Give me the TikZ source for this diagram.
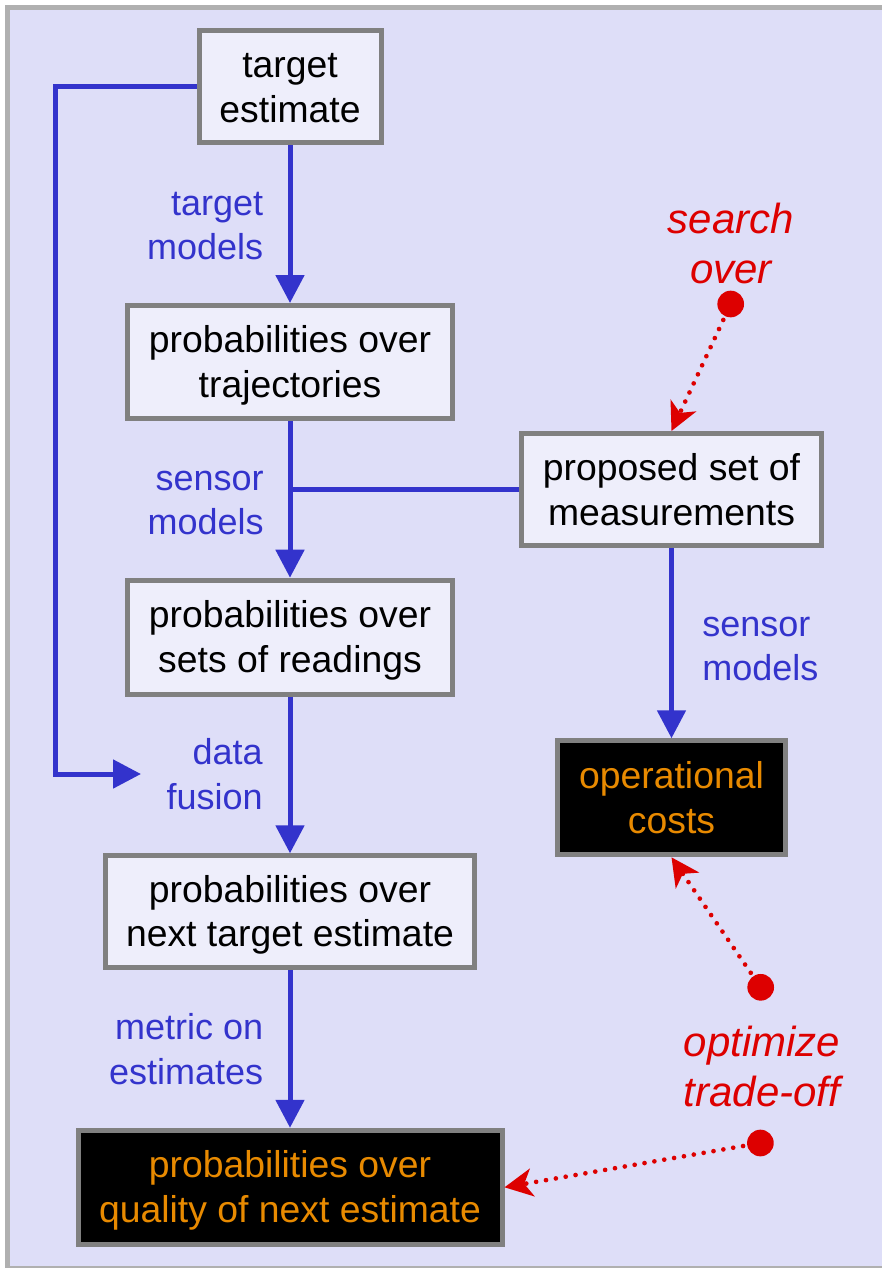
\documentclass[tikz,border=0pt]{standalone}
\usepackage{fontspec}
\setmainfont{Liberation Sans}
\usetikzlibrary{arrows.meta}
\definecolor{bgc}{HTML}{DEDEF8}
\definecolor{framegray}{HTML}{B0B0B0}
\definecolor{boxgray}{HTML}{808080}
\definecolor{boxfill}{HTML}{EEEEFB}
\definecolor{bluec}{HTML}{3333CC}
\definecolor{redc}{HTML}{DD0000}
\definecolor{orangec}{HTML}{E88A00}
\newcommand\lnstrut{\rule[-5pt]{0pt}{30pt}}
\newcommand\bxfont{\fontsize{28}{33.5}\selectfont}
\newcommand\lbfont{\fontsize{27}{33.5}\selectfont}
\begin{document}
\begin{tikzpicture}[x=0.75pt,y=-0.75pt,
  box/.style={draw=boxgray, line width=3.75pt, fill=boxfill, inner sep=0pt, align=center, font=\bxfont, text=black},
  darkbox/.style={box, fill=black, text=orangec},
  lbl/.style={inner sep=0pt, align=right, text=bluec, font=\lbfont},
  rlbl/.style={inner sep=0pt, align=left, text=bluec, font=\lbfont},
  redtext/.style={inner sep=0pt, align=center, text=redc, font=\fontsize{31.5}{37.5}\selectfont\itshape},
  flow/.style={draw=bluec, line width=3.75pt, -{Triangle[length=21pt,width=21pt]}},
  joinline/.style={draw=bluec, line width=3.75pt},
  reddot/.style={circle, fill=redc, minimum size=20pt, inner sep=0pt},
  redarrow/.style={draw=redc, line width=3.5pt, line cap=round, dash pattern=on 0pt off 7.5pt, shorten <=3pt, -{Stealth[length=21pt,width=21pt,inset=6pt]}}
]
\useasboundingbox (0,0) rectangle (882,1268);
\fill[white] (0,0) rectangle (882,1268);
\fill[framegray] (5,5) rectangle (882,1268);
\fill[bgc] (10,10) rectangle (882,1266);

% boxes
\node[box, minimum width=136.5pt, minimum height=84pt] (te) at (290,86.5) {\lnstrut target\\\lnstrut estimate};
\node[box, minimum width=243.75pt, minimum height=84.75pt] (traj) at (290,362) {\lnstrut probabilities over\\\lnstrut trajectories};
\node[box, minimum width=225pt, minimum height=84pt] (prop) at (671.5,489.5) {\lnstrut proposed set of\\\lnstrut measurements};
\node[box, minimum width=243.75pt, minimum height=85.5pt] (read) at (290,637.2) {\lnstrut probabilities over\\\lnstrut sets of readings};
\node[darkbox, minimum width=171pt, minimum height=85.5pt] (op) at (671.5,797.8) {\lnstrut operational\\\lnstrut costs};
\node[box, minimum width=276.75pt, minimum height=84pt] (next) at (290,911.8) {\lnstrut probabilities over\\\lnstrut next target estimate};
\node[darkbox, minimum width=318pt, minimum height=85.5pt] (qual) at (290,1187.3) {\lnstrut probabilities over\\\lnstrut quality of next estimate};

% blue labels
\node[lbl, anchor=east] (l1) at (263.5,224.2) {\lnstrut target\\\lnstrut models};
\node[lbl, anchor=east] (l2) at (264,499.2) {\lnstrut sensor\\\lnstrut models};
\node[lbl, anchor=east] (l3) at (263,773.7) {\lnstrut data\\\lnstrut fusion};
\node[lbl, anchor=east] (l4) at (263.5,1048.7) {\lnstrut metric on\\\lnstrut estimates};
\node[rlbl, anchor=west] (l5) at (702,645.2) {\lnstrut sensor\\\lnstrut models};

% red texts
\node[redtext] (t1) at (731,244.7) {\lnstrut search\\\lnstrut over};
\node[redtext] (t2) at (762,1067.7) {\lnstrut optimize\\\lnstrut trade-off};

% blue connectors
\draw[flow] (te) -- (traj);
\draw[flow] (traj) -- (read);
\draw[flow] (read) -- (next);
\draw[flow] (next) -- (qual);
\draw[flow] (prop) -- (op);
\coordinate (joinpt) at (290,489.5);
\draw[joinline] (prop.west) -- (joinpt);
\coordinate (loopc) at (55,774);
\coordinate (fusin) at (141,774);
\draw[flow] (te.west) -| (loopc) -- (fusin);

% red dots and dotted arrows
\node[reddot] (d1) at (730.7,304) {};
\node[reddot] (d2) at (760.7,987.3) {};
\node[reddot] (d3) at (760.4,1143) {};
\draw[redarrow] (d1) -- (prop.north);
\draw[redarrow] (d2) -- (op.south);
\draw[redarrow] (d3) -- (qual.east);
\end{tikzpicture}
\end{document}
